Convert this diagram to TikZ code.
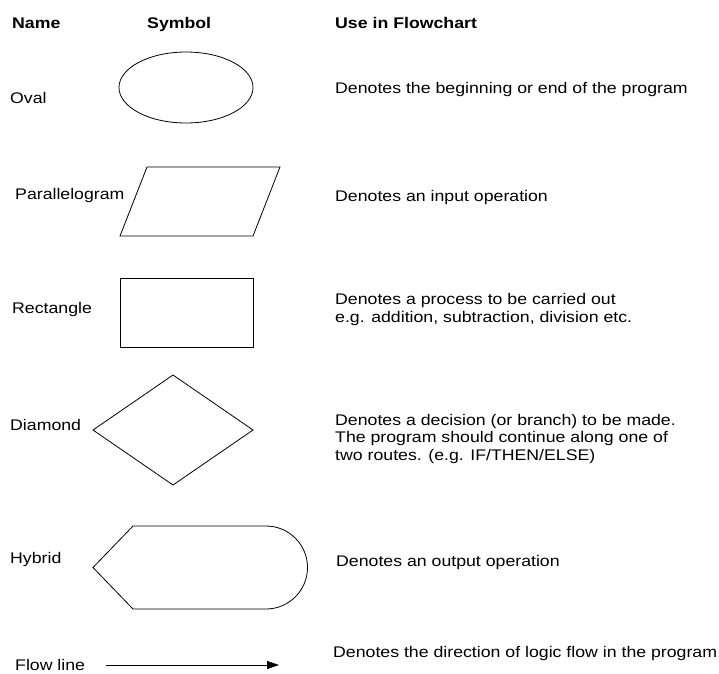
\documentclass[tikz,border=0pt]{standalone}
\usepackage{fontspec}
\setmainfont{Liberation Sans}[FakeStretch=1.15]
\usetikzlibrary{arrows.meta,shapes.geometric}

\begin{document}
\begin{tikzpicture}[x=1pt,y=-1pt,
    lbl/.style={anchor=base west,inner sep=0pt,font=\fontsize{15.4}{17.5}\selectfont},
    hdr/.style={lbl,font=\fontsize{15.4}{17.5}\selectfont\bfseries},
    symbol/.style={draw,line width=0.8pt,inner sep=0pt}]
    \useasboundingbox (0,0) rectangle (719,673);
    % column heads
    \node[hdr] (h-name) at (12,28) {Name};
    \node[hdr] (h-sym) at (147,28) {Symbol};
    \node[hdr] (h-use) at (335,28) {Use in Flowchart};
    % oval
    \node[lbl] (oval-name) at (10,103) {Oval};
    \node[symbol,ellipse,minimum width=134pt,minimum height=71pt] (oval) at (186,87.5) {};
    \node[lbl] (oval-use) at (335,93) {Denotes the beginning or end of the program};
    % parallelogram
    \node[lbl] (para-name) at (15,199) {Parallelogram};
    \draw[line width=0.8pt] (120,236) -- (253,236) -- (280,167) -- (147,167) -- cycle;
    \node[lbl] (para-use) at (335,201) {Denotes an input operation};
    % rectangle
    \node[lbl] (rect-name) at (12,313) {Rectangle};
    \node[symbol,rectangle,minimum width=133pt,minimum height=69pt] (rect) at (186.5,312.5) {};
    \node[lbl,align=left] (rect-use) at (335,322) {Denotes a process to be carried out\\e.g. addition, subtraction, division etc.};
    % diamond
    \node[lbl] (dia-name) at (10,430) {Diamond};
    \draw[line width=0.8pt] (93,430) -- (173,375) -- (253,430) -- (173,485) -- cycle;
    \node[lbl,align=left] (dia-use) at (335,460) {Denotes a decision (or branch) to be made.\\The program should continue along one of\\two routes. (e.g. IF/THEN/ELSE)};
    % hybrid
    \node[lbl] (hyb-name) at (10,563) {Hybrid};
    \draw[line width=0.8pt] (93,567.5) -- (133,526) -- (266,526)
        arc[start angle=-90,end angle=90,radius=41.5] -- (133,609) -- cycle;
    \node[lbl] (hyb-use) at (336,566) {Denotes an output operation};
    % flow line
    \node[lbl] (flow-name) at (15,670) {Flow line};
    \coordinate (flow-a) at (106,665);
    \coordinate (flow-b) at (279,665);
    \draw[-{Triangle[length=12pt,width=8pt]},line width=0.8pt] (flow-a) -- (flow-b);
    \node[lbl] (flow-use) at (333,657) {Denotes the direction of logic flow in the program};
\end{tikzpicture}
\end{document}
